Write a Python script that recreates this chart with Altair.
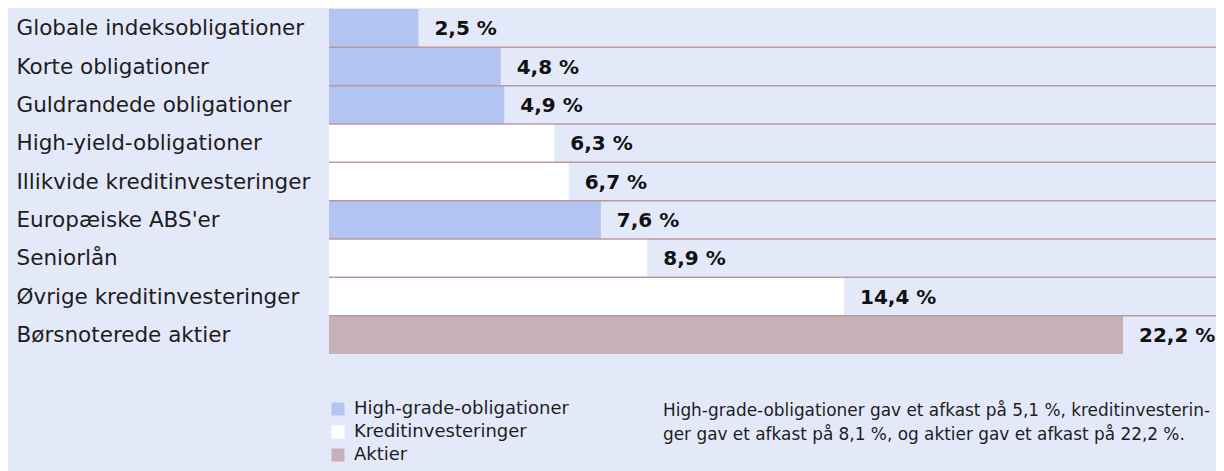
import altair as alt
import pandas as pd

categories = [
    "Globale indeksobligationer",
    "Korte obligationer",
    "Guldrandede obligationer",
    "High-yield-obligationer",
    "Illikvide kreditinvesteringer",
    "Europæiske ABS'er",
    "Seniorlån",
    "Øvrige kreditinvesteringer",
    "Børsnoterede aktier",
]
values = [2.5, 4.8, 4.9, 6.3, 6.7, 7.6, 8.9, 14.4, 22.2]
value_labels = ["2,5 %", "4,8 %", "4,9 %", "6,3 %", "6,7 %", "7,6 %", "8,9 %", "14,4 %", "22,2 %"]
groups = [
    "High-grade-obligationer",
    "High-grade-obligationer",
    "High-grade-obligationer",
    "Kreditinvesteringer",
    "Kreditinvesteringer",
    "High-grade-obligationer",
    "Kreditinvesteringer",
    "Kreditinvesteringer",
    "Aktier",
]
group_order = ["High-grade-obligationer", "Kreditinvesteringer", "Aktier"]
group_colors = ["#B3C4F2", "#FFFFFF", "#C8B1B6"]
note_lines = [
    "High-grade-obligationer gav et afkast på 5,1 %, kreditinvesterin-",
    "ger gav et afkast på 8,1 %, og aktier gav et afkast på 22,2 %.",
]

FONT = "DejaVu Sans"
BG = "#E4E9FA"
W = 887
H = 345

df = pd.DataFrame({"kategori": categories, "værdi": values, "etiket": value_labels, "gruppe": groups})
rules_df = pd.DataFrame({"kategori": categories[1:]})
note_df = pd.DataFrame({"note": ["\n".join(note_lines)]})

y_axis = alt.Axis(
    title=None, labelAlign="left", labelPadding=313, ticks=False, domain=False,
    labelFontSize=21.5, labelColor="#1d1d1d", labelFont=FONT, labelLimit=320, grid=False,
    labelOffset=1,
)
y_scale = alt.Scale(paddingInner=0, paddingOuter=0)
x_enc = alt.X("værdi:Q", scale=alt.Scale(domain=[0, 24.8]), axis=None)

bars = alt.Chart(df).mark_bar(strokeWidth=0).encode(
    x=x_enc,
    y=alt.Y("kategori:N", sort=categories, scale=y_scale, axis=y_axis),
    color=alt.Color(
        "gruppe:N",
        scale=alt.Scale(domain=group_order, range=group_colors),
        legend=alt.Legend(
            orient="none", legendX=0, legendY=391, title=None,
            symbolType="square", symbolSize=169, symbolStrokeWidth=0, symbolOpacity=1,
            labelFontSize=18, labelFont=FONT, labelColor="#1d1d1d", labelOffset=7,
            labelLimit=300, rowPadding=5,
        ),
    ),
)

text = alt.Chart(df).mark_text(
    align="left", baseline="middle", dx=16, dy=1, fontSize=20, fontWeight="bold", font=FONT, color="#111111"
).encode(
    x=x_enc,
    y=alt.Y("kategori:N", sort=categories, scale=y_scale, axis=y_axis),
    text="etiket:N",
)

rules = alt.Chart(rules_df).mark_rule(color="#B89A9E", strokeWidth=1.5).encode(
    y=alt.Y("kategori:N", sort=categories, scale=y_scale, axis=y_axis, bandPosition=0),
    x=alt.value(0),
    x2=alt.value(W),
)

note = alt.Chart(note_df).mark_text(
    align="left", baseline="alphabetic", lineBreak="\n", lineHeight=24,
    fontSize=16.9, font=FONT, color="#1d1d1d",
).encode(
    x=alt.value(334),
    y=alt.value(407),
    text="note:N",
)

chart = alt.layer(bars, rules, text, note).properties(
    width=W, height=H,
    autosize="none",
    padding={"left": 321, "top": 1, "right": 0, "bottom": 117},
    background=BG,
).configure_view(stroke=None)

chart.save("out.html", embed_options={"renderer": "svg", "actions": False})
